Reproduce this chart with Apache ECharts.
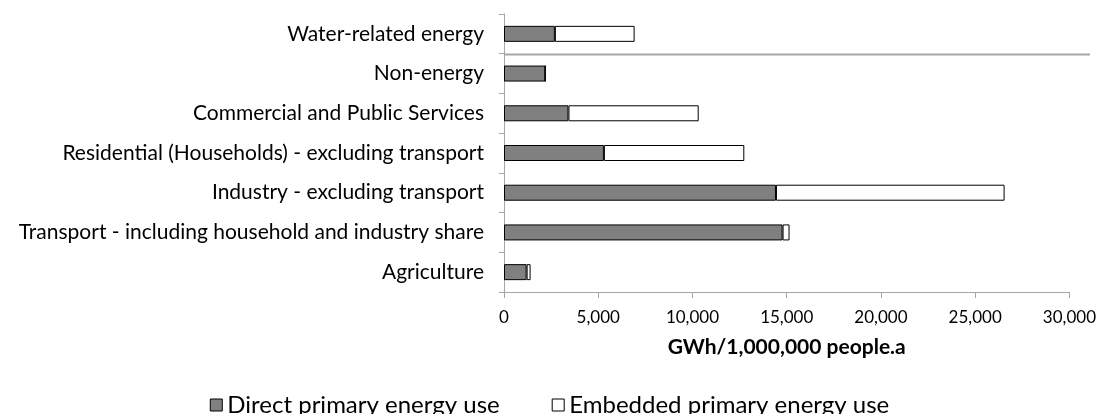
<!DOCTYPE html>
<html>
<head>
    <meta charset="UTF-8">
    <title>Primary energy use by sector</title>
    <script src="https://cdn.jsdelivr.net/npm/echarts@6/dist/echarts.min.js"></script>
    <style>
        html, body { margin: 0; padding: 0; background: #fff; }
        #main { width: 1099px; height: 414px; }
    </style>
</head>
<body>
<div id="main"></div>
<script>
    // categories, bottom to top
    var categories = [
        'Agriculture',
        'Transport - including household and industry share',
        'Industry - excluding transport',
        'Residential (Households) - excluding transport',
        'Commercial and Public Services',
        'Non-energy',
        'Water-related energy'
    ];
    var directUse   = [1200, 14780, 14430, 5300, 3420, 2190, 2700];
    var embeddedUse = [210, 370, 12130, 7450, 6910, 0, 4230];
    var xTicks = [0, 5000, 10000, 15000, 20000, 25000, 30000];

    var font = 'Lato';
    var myChart = echarts.init(document.getElementById('main'));

    var option = {
        animation: false,
        textStyle: { fontFamily: font, color: '#000' },
        grid: { left: 504, right: 28, top: 14, bottom: 122 },
        legend: {
            top: 388,
            left: 'center',
            icon: 'rect',
            itemWidth: 12,
            itemHeight: 12,
            itemGap: 52,
            textStyle: { fontFamily: font, fontSize: 24, color: '#000' },
            data: [
                { name: 'Direct primary energy use', itemStyle: { color: '#808080', borderColor: '#000', borderWidth: 1 } },
                { name: 'Embedded primary energy use', itemStyle: { color: '#fff', borderColor: '#000', borderWidth: 1 } }
            ]
        },
        xAxis: {
            type: 'value',
            min: xTicks[0],
            max: xTicks[xTicks.length - 1],
            interval: 5000,
            name: 'GWh/1,000,000 people.a',
            nameLocation: 'middle',
            nameGap: 45,
            nameTextStyle: { fontFamily: font, fontWeight: 'bold', fontSize: 21, color: '#000' },
            axisLine: { show: true, lineStyle: { color: '#a6a6a6', width: 1 } },
            axisTick: { show: true, length: 6, lineStyle: { color: '#a6a6a6' } },
            axisLabel: {
                margin: 17,
                fontSize: 17,
                color: '#000',
                formatter: function (v) { return v.toLocaleString('en-US'); }
            },
            splitLine: { show: false }
        },
        yAxis: {
            type: 'category',
            data: categories,
            axisLine: { lineStyle: { color: '#a6a6a6', width: 1 } },
            axisTick: { show: true, length: 5, lineStyle: { color: '#a6a6a6' } },
            axisLabel: { margin: 20, fontSize: 21, color: '#000' }
        },
        series: [
            {
                name: 'Direct primary energy use',
                type: 'bar',
                stack: 'total',
                barWidth: 16,
                data: directUse,
                itemStyle: { color: '#808080', borderColor: '#000', borderWidth: 1 }
            },
            {
                name: 'Embedded primary energy use',
                type: 'bar',
                stack: 'total',
                barWidth: 16,
                data: embeddedUse,
                itemStyle: { color: '#fff', borderColor: '#000', borderWidth: 1 }
            }
        ]
    };
    myChart.setOption(option);

    // grey separator between "Water-related energy" and the other sectors
    var yTop = myChart.convertToPixel({ yAxisIndex: 0 }, categories[6]);
    var yNext = myChart.convertToPixel({ yAxisIndex: 0 }, categories[5]);
    var ySep = Math.round((yTop + yNext) / 2) + 0.5;
    var x0 = myChart.convertToPixel({ xAxisIndex: 0 }, 0);
    myChart.setOption({
        graphic: [{
            type: 'line',
            shape: { x1: x0, y1: ySep, x2: 1090, y2: ySep },
            style: { stroke: '#a6a6a6', lineWidth: 2 },
            silent: true
        }]
    });
</script>
</body>
</html>
